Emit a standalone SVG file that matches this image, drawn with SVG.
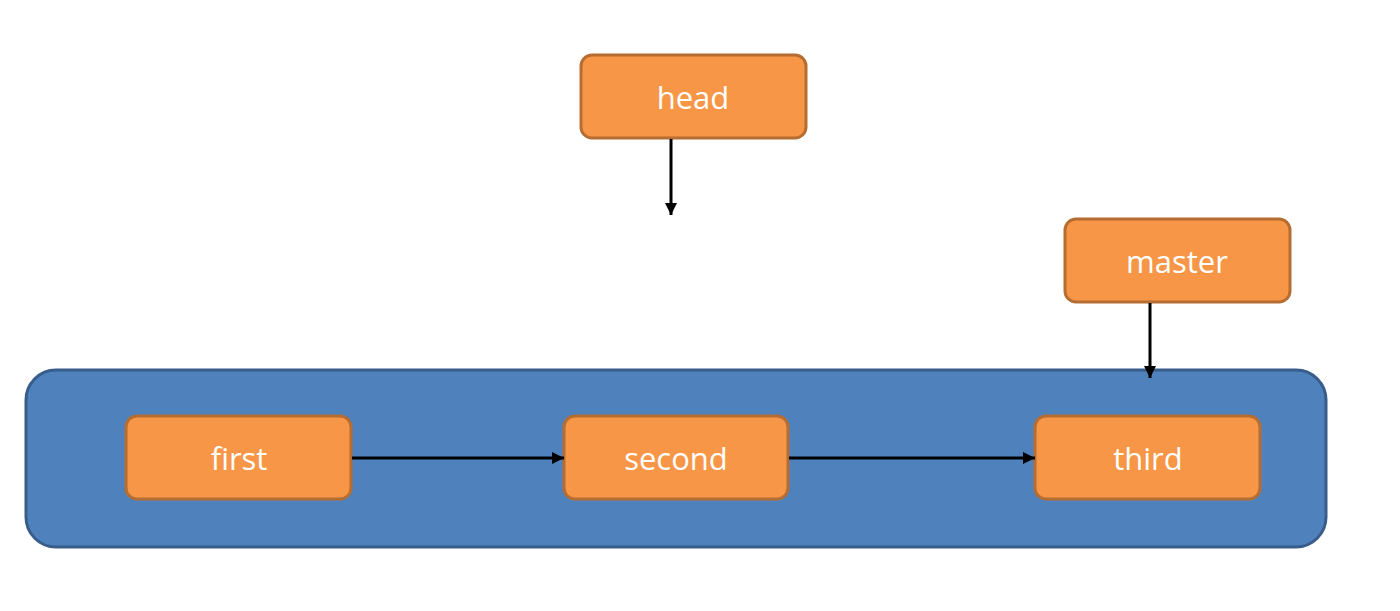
<svg xmlns="http://www.w3.org/2000/svg" width="1400" height="611" viewBox="0 0 1400 611">
<style>
.box{fill:#F79646;stroke:#B66D31;stroke-width:3}
.lbl{font-family:"Open Sans","Liberation Sans",sans-serif;font-size:31px;fill:#FFFFFF;text-anchor:middle;dominant-baseline:central}
.con{stroke:#000;stroke-width:3;fill:none;marker-end:url(#ah)}
</style>
<defs>
<marker id="ah" viewBox="0 0 10 10" refX="10" refY="5" markerWidth="4" markerHeight="4" markerUnits="strokeWidth" orient="auto">
<path d="M0,0 L10,5 L0,10 z" fill="#000"/>
</marker>
</defs>
<rect width="1400" height="611" fill="#FFFFFF"/>
<g id="container">
<rect x="26" y="370" width="1300" height="177" rx="30" fill="#4F81BD" stroke="#385D8A" stroke-width="3"/>
</g>
<g id="head"><rect class="box" x="581" y="55" width="225" height="83" rx="11"/><text class="lbl" x="693" y="97">head</text></g>
<g id="master"><rect class="box" x="1065" y="219" width="225" height="83" rx="11"/><text class="lbl" x="1177" y="261">master</text></g>
<g id="first"><rect class="box" x="126" y="416" width="225" height="83" rx="11"/><text class="lbl" x="239" y="458">first</text></g>
<g id="second"><rect class="box" x="564" y="416" width="224" height="83" rx="11"/><text class="lbl" x="676" y="458">second</text></g>
<g id="third"><rect class="box" x="1035" y="416" width="225" height="83" rx="11"/><text class="lbl" x="1148" y="458">third</text></g>
<g id="connectors">
<line class="con" x1="671" y1="139" x2="671" y2="215"/>
<line class="con" x1="1150" y1="303" x2="1150" y2="378"/>
<line class="con" x1="352" y1="458" x2="564" y2="458"/>
<line class="con" x1="789" y1="458" x2="1035" y2="458"/>
</g>
</svg>
